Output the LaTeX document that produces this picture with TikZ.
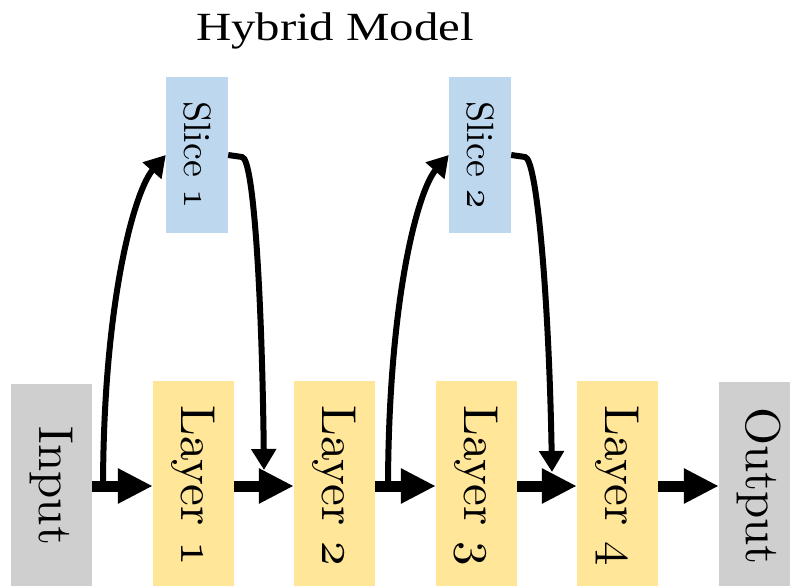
\documentclass[tikz,border=0pt]{standalone}
\usepackage{fontspec}
\newfontfamily\titlefont{Liberation Serif}
\newfontfamily\boxfont{lmroman10-regular}[Extension=.otf]
\usetikzlibrary{arrows.meta}
\definecolor{iogray}{HTML}{D0CFD0}
\definecolor{layeryellow}{HTML}{FFE699}
\definecolor{sliceblue}{HTML}{BDD7EE}
% text turned to read downwards
\newcommand{\vtext}[1]{\rotatebox{-90}{#1}}
% old-style figures from the math italic font, at the two text sizes
\font\osbig=cmmi10 at 49pt
\font\ossmall=cmmi10 at 38pt
\newcommand{\osn}[1]{{\osbig #1}}
\newcommand{\oss}[1]{{\ossmall #1}}
\tikzset{
  blockbox/.style={inner sep=0pt, minimum width=81, minimum height=210,
    font=\boxfont\fontsize{49}{52}\selectfont},
  iobox/.style={blockbox, fill=iogray},
  layerbox/.style={blockbox, fill=layeryellow},
  slicebox/.style={inner sep=0pt, minimum width=62, minimum height=156,
    fill=sliceblue, font=\boxfont\fontsize{38}{40}\selectfont},
  flow/.style={line width=11, -{Triangle[length=35,width=33]}},
  skip/.style={line width=6, -{Triangle[length=21,width=24]}},
}
\begin{document}
\begin{tikzpicture}[x=1pt,y=-1pt]
  \useasboundingbox (0,0) rectangle (790,586);
  \clip (0,0) rectangle (790,586);

  % title
  \node (title) at (335,31) {\titlefont\fontsize{40}{44}\selectfont\scalebox{1.22}[1]{Hybrid Model}};

  % main chain of blocks
  \node[iobox, minimum height=204] (in) at (51.5,486) {\vtext{Input}};
  \node[layerbox] (l1) at (193.5,486) {\vtext{Layer \osn{1}}};
  \node[layerbox] (l2) at (334.5,486) {\vtext{Layer \osn{2}}};
  \node[layerbox] (l3) at (476.5,486) {\vtext{Layer \osn{3}}};
  \node[layerbox] (l4) at (617.5,486) {\vtext{Layer \osn{4}}};
  \node[iobox, minimum height=208] (out) at (759.5,486) {\vtext{Output}};

  % slices
  \node[slicebox] (s1) at (197,155) {\vtext{Slice \oss{1}}};
  \node[slicebox] (s2) at (480,155) {\vtext{Slice \oss{2}}};

  % branch and merge points
  \coordinate (b1) at (103,491);
  \coordinate (b2) at (388,491);
  \coordinate (m1) at (264,470);
  \coordinate (m2) at (552,472);

  % forward flow
  \draw[flow] (in.east) -- (l1.west);
  \draw[flow] (l1.east) -- (l2.west);
  \draw[flow] (l2.east) -- (l3.west);
  \draw[flow] (l3.east) -- (l4.west);
  \draw[flow] (l4.east) -- (out.west);

  % skip paths through the slices
  \draw[skip] (b1) .. controls (103,300) and (135,190) .. (s1.west);
  \draw[skip] (s1.east) -- (242,157) .. controls (254,158) and (262,300) .. (m1);
  \draw[skip] (b2) .. controls (388,300) and (418,190) .. (s2.west);
  \draw[skip] (s2.east) -- (525,157) .. controls (537,158) and (549,300) .. (m2);
\end{tikzpicture}
\end{document}
